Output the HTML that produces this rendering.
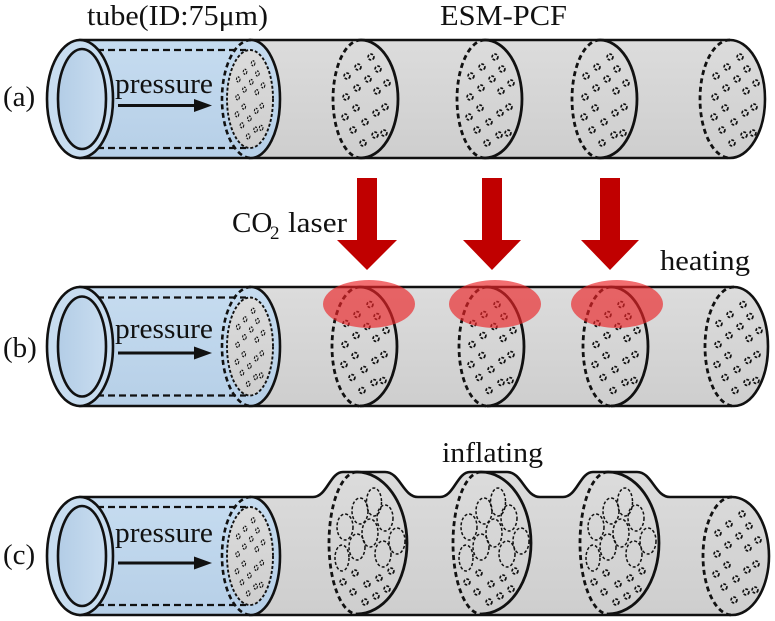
<!DOCTYPE html>
<html>
<head>
<meta charset="utf-8">
<style>
  html,body{margin:0;padding:0;background:#fff;}
  svg{display:block;}
  text{font-family:"Liberation Serif","DejaVu Serif",serif;fill:#111;}
</style>
</head>
<body>
<svg width="775" height="621" viewBox="0 0 775 621" xmlns="http://www.w3.org/2000/svg">
  <defs>
    <linearGradient id="gg" x1="0" y1="0" x2="0" y2="1">
      <stop offset="0" stop-color="#dcdcdc"/>
      <stop offset="1" stop-color="#cecece"/>
    </linearGradient>
    <linearGradient id="bg" x1="0" y1="0" x2="0" y2="1">
      <stop offset="0" stop-color="#c6dcf0"/>
      <stop offset="1" stop-color="#b6cfe7"/>
    </linearGradient>
    <linearGradient id="bg2" x1="0" y1="0" x2="1" y2="0">
      <stop offset="0" stop-color="#b3cde6"/>
      <stop offset="1" stop-color="#c9ddf0"/>
    </linearGradient>
    <g id="h" fill="none" stroke="#111" stroke-width="1.7" stroke-dasharray="2.8 1.4">
      <circle cx="5" cy="-42" r="2.9"/>
      <circle cx="-8" cy="-32" r="2.9"/>
      <circle cx="12" cy="-30" r="2.9"/>
      <circle cx="-19" cy="-23" r="2.9"/>
      <circle cx="2" cy="-20" r="2.9"/>
      <circle cx="21" cy="-16" r="2.9"/>
      <circle cx="-9" cy="-11" r="2.9"/>
      <circle cx="11" cy="-8" r="2.9"/>
      <circle cx="-20" cy="-2" r="2.9"/>
      <circle cx="-10" cy="9" r="2.9"/>
      <circle cx="19" cy="8" r="2.9"/>
      <circle cx="10" cy="14" r="2.9"/>
      <circle cx="-21" cy="18" r="2.9"/>
      <circle cx="-1" cy="23" r="2.9"/>
      <circle cx="-13" cy="31" r="2.9"/>
      <circle cx="9" cy="36" r="2.9"/>
      <circle cx="18" cy="34" r="2.9"/>
      <circle cx="-3" cy="44" r="2.9"/>
    </g>
    <g id="bh" fill="none" stroke="#111" stroke-width="1.5">
      <g stroke-dasharray="3 2">
        <ellipse cx="4.5" cy="-41" rx="7.5" ry="14"/>
        <ellipse cx="-9.5" cy="-32" rx="8" ry="13"/>
        <ellipse cx="15.5" cy="-25" rx="8" ry="13"/>
        <ellipse cx="-24.5" cy="-16" rx="8" ry="13"/>
        <ellipse cx="0.5" cy="-10" rx="8" ry="14"/>
        <ellipse cx="27.5" cy="-2" rx="8" ry="13"/>
        <ellipse cx="-12.5" cy="4" rx="8" ry="13"/>
        <ellipse cx="13.5" cy="11" rx="8" ry="13"/>
        <ellipse cx="-27.5" cy="15" rx="7" ry="13"/>
      </g>
      <g stroke-dasharray="2.8 1.4" stroke-width="1.7">
        <circle cx="21.5" cy="28" r="2.9"/>
        <circle cx="-14.5" cy="30" r="2.9"/>
        <circle cx="9.5" cy="35" r="2.9"/>
        <circle cx="-26.5" cy="39" r="2.9"/>
        <circle cx="-2.5" cy="41" r="2.9"/>
        <circle cx="17.5" cy="46" r="2.9"/>
        <circle cx="-16.5" cy="49" r="2.9"/>
        <circle cx="6.5" cy="53" r="2.9"/>
        <circle cx="-4.5" cy="59" r="2.9"/>
      </g>
    </g>
  </defs>

  <!-- ================= Labels ================= -->
  <text x="87" y="25" font-size="29" textLength="181" lengthAdjust="spacingAndGlyphs">tube(ID:75μm)</text>
  <text x="440" y="25" font-size="29" textLength="127" lengthAdjust="spacingAndGlyphs">ESM-PCF</text>
  <text x="3" y="106" font-size="29">(a)</text>
  <text x="3" y="357" font-size="29">(b)</text>
  <text x="3" y="564" font-size="29">(c)</text>

  <!-- ================= ROW A (cy=99) ================= -->
  <path d="M250,40 L730,40 A35,59 0 0 1 730,158 L250,158 Z" fill="url(#gg)" stroke="#111" stroke-width="2.6"/>
  <g fill="none" stroke="#111" stroke-width="2.8">
    <path d="M361,40 A37,59 0 0 1 361,158"/>
    <path d="M485,40 A37,59 0 0 1 485,158"/>
    <path d="M600,40 A37,59 0 0 1 600,158"/>
    <g stroke-dasharray="5 3.5">
      <path d="M361,40 A28,59 0 0 0 361,158"/>
      <path d="M485,40 A28,59 0 0 0 485,158"/>
      <path d="M600,40 A28,59 0 0 0 600,158"/>
      <path d="M730,40 A30,59 0 0 0 730,158"/>
    </g>
  </g>
  <use href="#h" x="366" y="99"/>
  <use href="#h" x="490" y="99"/>
  <use href="#h" x="605" y="99"/>
  <use href="#h" x="735" y="99"/>

  <!-- tube A -->
  <path d="M80,40 L251,40 A29,59 0 0 1 251,158 L80,158 Z" fill="url(#bg)" stroke="#111" stroke-width="2.6"/>
  <path d="M251,40 A29,59 0 0 0 251,158" fill="none" stroke="#111" stroke-width="2.6" stroke-dasharray="5 3.5"/>
  <g stroke="#111" stroke-width="2.2" stroke-dasharray="7 4">
    <line x1="86" y1="50" x2="246" y2="50"/>
    <line x1="86" y1="148" x2="246" y2="148"/>
  </g>
  <ellipse cx="250" cy="99" rx="23" ry="49" fill="url(#gg)" stroke="#111" stroke-width="1.9" stroke-dasharray="3 2"/>
  <use href="#h" transform="translate(250,99) scale(0.62,0.85)"/>
  <ellipse cx="80" cy="99" rx="33" ry="59" fill="#c8ddf0" stroke="#111" stroke-width="2.6"/>
  <ellipse cx="82" cy="99" rx="24" ry="50" fill="url(#bg2)" stroke="#111" stroke-width="2.6"/>
  <text x="115" y="93" font-size="29" textLength="98" lengthAdjust="spacingAndGlyphs">pressure</text>
  <line x1="118" y1="105.5" x2="197" y2="105.5" stroke="#111" stroke-width="3"/>
  <polygon points="194,99 212,105.5 194,112" fill="#111"/>

  <!-- ================= ROW B (cy=346.5) ================= -->
  <path d="M250,287 L734,287 A34,59.5 0 0 1 734,406 L250,406 Z" fill="url(#gg)" stroke="#111" stroke-width="2.6"/>
  <g fill="none" stroke="#111" stroke-width="2.8">
    <path d="M360,287 A37,59.5 0 0 1 360,406"/>
    <path d="M487,287 A37,59.5 0 0 1 487,406"/>
    <path d="M611,287 A37,59.5 0 0 1 611,406"/>
    <g stroke-dasharray="5 3.5">
      <path d="M360,287 A28,59.5 0 0 0 360,406"/>
      <path d="M487,287 A28,59.5 0 0 0 487,406"/>
      <path d="M611,287 A28,59.5 0 0 0 611,406"/>
      <path d="M734,287 A29,59.5 0 0 0 734,406"/>
    </g>
  </g>
  <use href="#h" x="365" y="346.5"/>
  <use href="#h" x="492" y="346.5"/>
  <use href="#h" x="616" y="346.5"/>
  <use href="#h" x="738" y="346.5"/>

  <!-- tube B -->
  <path d="M80,287 L251,287 A29,59.5 0 0 1 251,406 L80,406 Z" fill="url(#bg)" stroke="#111" stroke-width="2.6"/>
  <path d="M251,287 A29,59.5 0 0 0 251,406" fill="none" stroke="#111" stroke-width="2.6" stroke-dasharray="5 3.5"/>
  <g stroke="#111" stroke-width="2.2" stroke-dasharray="7 4">
    <line x1="86" y1="297.5" x2="246" y2="297.5"/>
    <line x1="86" y1="395.5" x2="246" y2="395.5"/>
  </g>
  <ellipse cx="250" cy="346.5" rx="23" ry="49" fill="url(#gg)" stroke="#111" stroke-width="1.9" stroke-dasharray="3 2"/>
  <use href="#h" transform="translate(250,346.5) scale(0.62,0.85)"/>
  <ellipse cx="80" cy="346.5" rx="33" ry="59.5" fill="#c8ddf0" stroke="#111" stroke-width="2.6"/>
  <ellipse cx="82" cy="346.5" rx="24" ry="50" fill="url(#bg2)" stroke="#111" stroke-width="2.6"/>
  <text x="115" y="338" font-size="29" textLength="98" lengthAdjust="spacingAndGlyphs">pressure</text>
  <line x1="118" y1="353" x2="197" y2="353" stroke="#111" stroke-width="3"/>
  <polygon points="194,346.5 212,353 194,359.5" fill="#111"/>

  <!-- red heating spots -->
  <g fill="rgb(236,36,40)" fill-opacity="0.66">
    <ellipse cx="369" cy="304" rx="46" ry="24"/>
    <ellipse cx="495" cy="304" rx="46" ry="24"/>
    <ellipse cx="617" cy="304" rx="46" ry="24"/>
  </g>

  <!-- red arrows -->
  <g fill="#c00000">
    <polygon points="357,178 377,178 377,240 397,240 367,270 337,240 357,240"/>
    <polygon points="482,178 502,178 502,240 521,240 492,270 463,240 482,240"/>
    <polygon points="600,178 620,178 620,240 639,240 610,270 581,240 600,240"/>
  </g>

  <text x="232" y="232" font-size="29">CO</text>
  <text x="270" y="239" font-size="19">2</text>
  <text x="288" y="232" font-size="29" textLength="59" lengthAdjust="spacingAndGlyphs">laser</text>
  <text x="660" y="270" font-size="29" textLength="90" lengthAdjust="spacingAndGlyphs">heating</text>

  <!-- ================= ROW C (cy=556) ================= -->
  <text x="442" y="462" font-size="29" textLength="101" lengthAdjust="spacingAndGlyphs">inflating</text>
  <path d="M250,497 L313,497 C327,497 330,472 343,472 L385,472 C400,472 403,497 418,497 L440,497 C454,497 457,472 470,472 L507,472 C522,472 525,497 540,497 L563,497 C577,497 580,472 593,472 L637,472 C652,472 655,497 670,497 L732,497 A37,59 0 0 1 732,615 L250,615 Z" fill="url(#gg)" stroke="#111" stroke-width="2.6" stroke-linejoin="round"/>
  <g fill="none" stroke="#111" stroke-width="2.8">
    <path d="M357,472 A50,71 0 0 1 357,614"/>
    <path d="M481,472 A50,71 0 0 1 481,614"/>
    <path d="M608,472 A51,71 0 0 1 608,614"/>
    <g stroke-dasharray="5 3.5">
      <path d="M357,472 A28,71 0 0 0 357,614"/>
      <path d="M481,472 A28,71 0 0 0 481,614"/>
      <path d="M608,472 A28,71 0 0 0 608,614"/>
      <path d="M732,497 A29,59 0 0 0 732,615"/>
    </g>
  </g>
  <use href="#bh" x="369.5" y="543"/>
  <use href="#bh" x="493.5" y="543"/>
  <use href="#bh" x="620.5" y="543"/>
  <use href="#h" x="737" y="556"/>

  <!-- tube C -->
  <path d="M80,497 L251,497 A29,59 0 0 1 251,615 L80,615 Z" fill="url(#bg)" stroke="#111" stroke-width="2.6"/>
  <path d="M251,497 A29,59 0 0 0 251,615" fill="none" stroke="#111" stroke-width="2.6" stroke-dasharray="5 3.5"/>
  <g stroke="#111" stroke-width="2.2" stroke-dasharray="7 4">
    <line x1="86" y1="507" x2="246" y2="507"/>
    <line x1="86" y1="605" x2="246" y2="605"/>
  </g>
  <ellipse cx="250" cy="556" rx="23" ry="49" fill="url(#gg)" stroke="#111" stroke-width="1.9" stroke-dasharray="3 2"/>
  <use href="#h" transform="translate(250,556) scale(0.62,0.85)"/>
  <ellipse cx="80" cy="556" rx="33" ry="59" fill="#c8ddf0" stroke="#111" stroke-width="2.6"/>
  <ellipse cx="82" cy="556" rx="24" ry="50" fill="url(#bg2)" stroke="#111" stroke-width="2.6"/>
  <text x="115" y="542" font-size="29" textLength="98" lengthAdjust="spacingAndGlyphs">pressure</text>
  <line x1="118" y1="563" x2="197" y2="563" stroke="#111" stroke-width="3"/>
  <polygon points="194,556.5 212,563 194,569.5" fill="#111"/>
</svg>
</body>
</html>
